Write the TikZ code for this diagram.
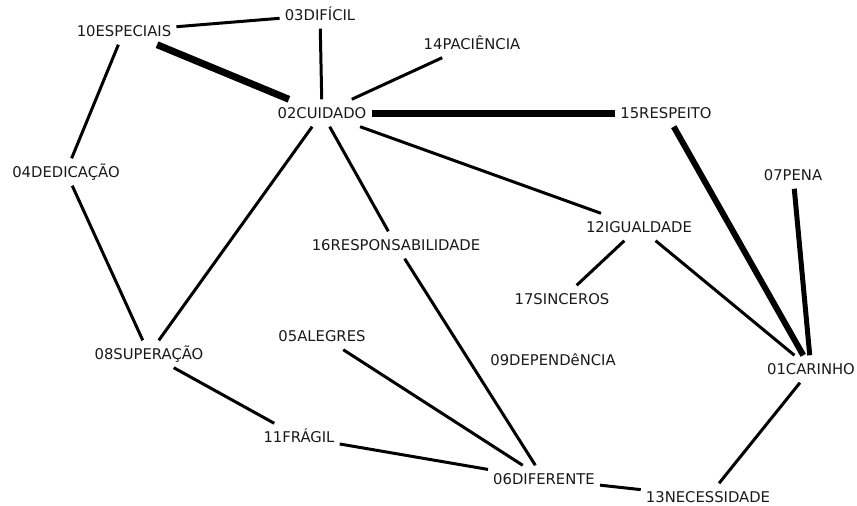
\documentclass[tikz,border=0pt]{standalone}
\usepackage{fontspec}
\setmainfont{DejaVu Sans}
\begin{document}
\begin{tikzpicture}[x=1pt,y=1pt,
  lbl/.style={inner xsep=5pt, inner ysep=8pt, text height=11pt, text depth=0pt,
    font=\fontsize{14.8}{17}\selectfont, text=black!90},
  thin/.style={line width=3pt, black},
  thick7/.style={line width=7pt, black},
  thick6/.style={line width=6pt, black},
  thick5/.style={line width=5pt, black}]
\useasboundingbox (0,0) rectangle (857,-506);
\node[lbl] (n10) at (124,-31) {10ESPECIAIS};
\node[lbl] (n03) at (320,-15) {03DIFÍCIL};
\node[lbl] (n14) at (472,-44) {14PACIÊNCIA};
\node[lbl] (n02) at (322,-113) {02CUIDADO};
\node[lbl] (n15) at (666,-113) {15RESPEITO};
\node[lbl] (n04) at (66,-172) {04DEDICAÇÃO};
\node[lbl] (n07) at (793,-175) {07PENA};
\node[lbl] (n12) at (639,-227) {12IGUALDADE};
\node[lbl] (n16) at (396,-245) {16RESPONSABILIDADE};
\node[lbl] (n17) at (562,-299) {17SINCEROS};
\node[lbl] (n05) at (322,-336) {05ALEGRES};
\node[lbl] (n08) at (149,-354) {08SUPERAÇÃO};
\node[lbl] (n09) at (553,-360) {09DEPENDêNCIA};
\node[lbl] (n01) at (811,-369) {01CARINHO};
\node[lbl] (n11) at (299,-437) {11FRÁGIL};
\node[lbl] (n06) at (544,-479) {06DIFERENTE};
\node[lbl] (n13) at (708,-497) {13NECESSIDADE};

\draw[thin] (n10) -- (n03);
\draw[thick7] (n10) -- (n02);
\draw[thin] (n10) -- (n04);
\draw[thin] (n03) -- (n02);
\draw[thin] (n14) -- (n02);
\draw[thick7] (n02) -- (n15);
\draw[thin] (n02) -- (n12);
\draw[thin] (n02) -- (n16);
\draw[thin] (n02) -- (n08);
\draw[thin] (n04) -- (n08);
\draw[thick6] (n15) -- (n01);
\draw[thick5] (n07) -- (n01);
\draw[thin] (n12) -- (n17);
\draw[thin] (n12) -- (n01);
\draw[thin] (n16) -- (n06);
\draw[thin] (n05) -- (n06);
\draw[thin] (n08) -- (n11);
\draw[thin] (n11) -- (n06);
\draw[thin] (n06) -- (n13);
\draw[thin] (n13) -- (n01);
\end{tikzpicture}
\end{document}
